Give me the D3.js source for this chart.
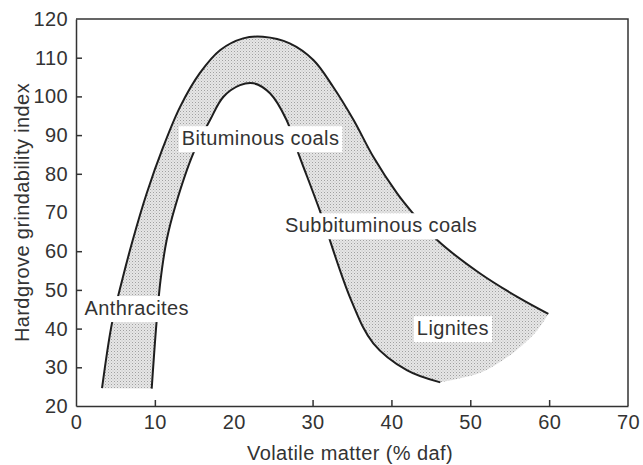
<!DOCTYPE html>
<html>
<head>
<meta charset="utf-8">
<script src="https://cdn.jsdelivr.net/npm/d3@7"></script>
<style>
  body { margin: 0; background: #fff; }
  svg { display: block; font-family: "Liberation Sans", Arial, sans-serif; }
  .axis text { font-size: 20px; fill: #333; letter-spacing: 0.4px; }
  .axis path, .axis line { stroke: #333; stroke-width: 1.5; }
</style>
</head>
<body>
<svg width="643" height="465"></svg>
<script>
// volatile matter (% daf) / hardgrove index
var outerX = [3.3, 4.55, 5.85, 7.2, 8.96, 11.07, 13.2, 15.7, 18.3, 21.2, 23.7, 27.1, 30.1, 32.6, 35.2, 37.7, 40.7, 42.6, 45.8, 51.2, 56.3, 59.9];
var outerY = [24.6, 41.3, 52.5, 62.9, 74.9, 87.0, 97.3, 106.0, 112.0, 115.0, 115.4, 113.7, 109.4, 102.5, 93.9, 84.4, 75.0, 70.1, 62.9, 54.3, 47.8, 43.8];

var innerX = [9.6, 10.2, 10.72, 11.5, 12.6, 14.9, 17.0, 18.7, 20.8, 22.5, 24.6, 26.7, 28.2, 30.9, 34.9, 37.7, 42.0, 46.2];
var innerY = [24.5, 41.3, 52.5, 62.9, 71.7, 85.4, 93.9, 99.9, 102.9, 103.4, 100.8, 93.9, 85.3, 70.6, 47.3, 36.2, 29.2, 26.1];

// unstroked edge of the lignite shading
var edgeX = [59.9, 58.5, 56.3, 54.1, 51.2, 46.2];
var edgeY = [43.8, 39.6, 35.2, 31.8, 28.5, 26.1];

var labelNames = ["Bituminous coals", "Anthracites", "Subbituminous coals", "Lignites"];
var labelX = [23.4, 7.7, 38.7, 47.8];
var labelY = [87.4, 43.5, 64.9, 38.3];

var xTicks = [0, 10, 20, 30, 40, 50, 60, 70];
var yTicks = [20, 30, 40, 50, 60, 70, 80, 90, 100, 110, 120];

function draw() {
    var svg = d3.select("svg"),
        m = {left: 76, right: 628, top: 19, bottom: 406};

    var x = d3.scaleLinear().domain([0, 70]).range([m.left, m.right]);
    var y = d3.scaleLinear().domain([20, 120]).range([m.bottom, m.top]);

    var pat = svg.append("defs").append("pattern")
        .attr("id", "dots")
        .attr("patternUnits", "userSpaceOnUse")
        .attr("width", 3).attr("height", 3);
    pat.append("rect").attr("width", 3).attr("height", 3).attr("fill", "#e6e6e6");
    pat.append("rect").attr("width", 1).attr("height", 1).attr("fill", "#a0a0a0");
    pat.append("rect").attr("x", 1.5).attr("y", 1.5).attr("width", 1).attr("height", 1).attr("fill", "#c0c0c0");

    function pts(xs, ys) { return xs.map(function(d, i) { return [d, ys[i]]; }); }

    var line = d3.line()
        .x(function(d) { return x(d[0]); })
        .y(function(d) { return y(d[1]); })
        .curve(d3.curveCatmullRom.alpha(0.5));

    var outer = pts(outerX, outerY),
        inner = pts(innerX, innerY),
        edge = pts(edgeX, edgeY);

    var band = line(outer) + line(edge).replace(/^M/, "L") +
        line(inner.slice().reverse()).replace(/^M/, "L") + "Z";

    svg.append("path")
        .attr("d", band)
        .attr("fill", "url(#dots)");

    svg.selectAll(".curve")
        .data([outer, inner])
        .enter().append("path")
        .attr("class", "curve")
        .attr("d", line)
        .attr("fill", "none")
        .attr("stroke", "#1e1e1e")
        .attr("stroke-width", 2);

    // labels sit on white boxes that break the curves
    var lab = svg.append("g").selectAll("g")
        .data(labelNames)
        .enter().append("g");

    lab.append("text")
        .attr("x", function(d, i) { return x(labelX[i]); })
        .attr("y", function(d, i) { return y(labelY[i]); })
        .attr("text-anchor", "middle")
        .style("font-size", "20px")
        .style("letter-spacing", "0.4px")
        .attr("fill", "#333")
        .text(function(d) { return d; });

    lab.each(function() {
        var g = d3.select(this),
            b = g.select("text").node().getBBox();
        g.insert("rect", "text")
            .attr("x", b.x - 3).attr("y", b.y - 1)
            .attr("width", b.width + 6).attr("height", b.height + 4)
            .attr("fill", "#fff");
    });

    // frame
    svg.append("path")
        .attr("d", "M" + m.left + "," + m.top + "H" + m.right + "V" + m.bottom)
        .attr("fill", "none")
        .attr("stroke", "#333")
        .attr("stroke-width", 1.5);

    svg.append("g")
        .attr("class", "axis")
        .attr("transform", "translate(0," + m.bottom + ")")
        .call(d3.axisBottom(x).tickValues(xTicks).tickSizeInner(-6).tickSizeOuter(0).tickPadding(9));

    svg.append("g")
        .attr("class", "axis")
        .attr("transform", "translate(" + m.left + ",0)")
        .call(d3.axisLeft(y).tickValues(yTicks).tickSizeInner(-6).tickSizeOuter(0).tickPadding(8));

    svg.selectAll(".axis .tick line")
        .filter(function(d) { return d === 0 || d === 70 || d === 20 || d === 120; })
        .remove();

    svg.append("text")
        .attr("x", 350)
        .attr("y", 460)
        .attr("text-anchor", "middle")
        .style("font-size", "20px")
        .style("letter-spacing", "0.4px")
        .attr("fill", "#333")
        .text("Volatile matter (% daf)");

    svg.append("text")
        .attr("transform", "translate(29," + ((m.top + m.bottom) / 2) + ")rotate(-90)")
        .attr("text-anchor", "middle")
        .style("font-size", "20px")
        .style("letter-spacing", "0.4px")
        .attr("fill", "#333")
        .text("Hardgrove grindability index");
}

draw();
</script>
</body>
</html>
